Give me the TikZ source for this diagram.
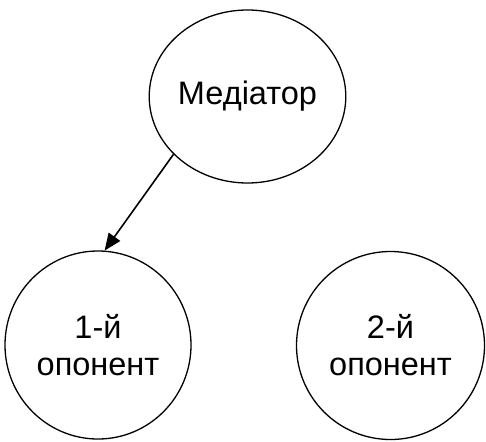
\documentclass[tikz,border=0pt]{standalone}
\usepackage{fontspec}
\setmainfont{Liberation Sans}
\usetikzlibrary{shapes.geometric,arrows.meta}
\begin{document}
\begin{tikzpicture}[x=1pt,y=-1pt,
  party/.style={draw, line width=1.3pt, ellipse, inner sep=0pt, align=center,
    font=\fontsize{32.5}{37}\selectfont}]
\useasboundingbox (0,0) rectangle (486,441);
\node[party, minimum width=193pt, minimum height=173pt] (med) at (247.5,96.5) {Медіатор};
\node[party, minimum width=186pt, minimum height=188pt] (p1) at (98,345) {1-й\\опонент};
\node[party, minimum width=188pt, minimum height=188pt] (p2) at (390.5,345.5) {2-й\\опонент};
\draw[line width=1.6pt, -{Triangle[length=17pt,width=14pt]}] (med.218) -- (p1.86);
\end{tikzpicture}
\end{document}
